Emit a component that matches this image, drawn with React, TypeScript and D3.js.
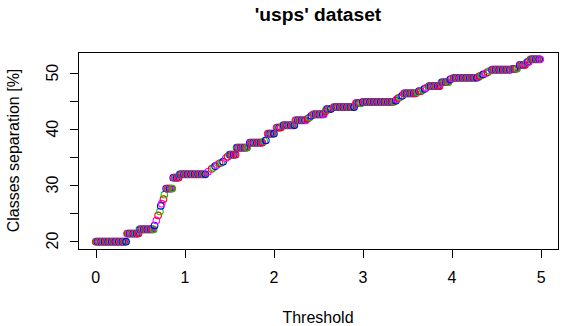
import { useEffect, useRef } from 'react';
import * as d3 from 'd3';

// step runs: threshold from..to (step 0.01) at one separation value
const runFrom = [
  0.00, 0.35, 0.49, 0.66, 0.68, 0.70, 0.72, 0.73, 0.74, 0.76, 0.77, 0.79, 0.87, 0.94,
  1.26, 1.30, 1.32, 1.34, 1.36, 1.39, 1.41, 1.43, 1.46, 1.48, 1.50, 1.58, 1.73, 1.89, 1.91, 1.93,
  2.03, 2.10, 2.24, 2.38, 2.40, 2.42, 2.44, 2.58, 2.59, 2.67, 2.92,
  3.00, 3.37, 3.38, 3.40, 3.42, 3.44, 3.46, 3.61, 3.63, 3.67, 3.69, 3.71, 3.74, 3.88, 3.98, 4.00,
  4.02, 4.30, 4.31, 4.33, 4.35, 4.38, 4.40, 4.42, 4.45, 4.68, 4.76, 4.84, 4.88,
];
const runTo = [
  0.34, 0.48, 0.65, 0.66, 0.68, 0.70, 0.72, 0.73, 0.74, 0.76, 0.77, 0.86, 0.93, 1.23,
  1.26, 1.30, 1.32, 1.34, 1.36, 1.39, 1.41, 1.43, 1.46, 1.48, 1.57, 1.70, 1.87, 1.89, 1.91, 2.00,
  2.08, 2.23, 2.36, 2.38, 2.40, 2.42, 2.56, 2.58, 2.64, 2.90, 2.98,
  3.35, 3.37, 3.38, 3.40, 3.42, 3.44, 3.59, 3.61, 3.65, 3.67, 3.69, 3.71, 3.86, 3.96, 3.98, 4.00,
  4.28, 4.30, 4.31, 4.33, 4.35, 4.38, 4.40, 4.42, 4.66, 4.73, 4.82, 4.86, 4.99,
];
const runValue = [
  19.8, 21.25, 22.0, 22.7, 23.6, 24.5, 25.2, 26.2, 26.6, 27.4, 28.2, 29.3, 31.25, 31.85,
  32.3, 32.8, 33.0, 33.3, 33.5, 33.8, 33.9, 34.1, 34.7, 35.0, 35.35, 36.6, 37.5, 37.8, 37.9, 39.1,
  40.2, 40.6, 41.5, 41.8, 42.0, 42.3, 42.55, 43.1, 43.5, 43.85, 44.55,
  44.8, 45.0, 45.3, 45.5, 45.65, 45.9, 46.3, 46.5, 46.7, 46.9, 47.1, 47.3, 47.6, 48.3, 48.8, 48.95,
  49.1, 49.25, 49.4, 49.55, 49.7, 49.9, 50.1, 50.3, 50.55, 50.7, 51.4, 51.9, 52.4,
];

const xTicks = [0, 1, 2, 3, 4, 5];
const yTicks = [20, 25, 30, 35, 40, 45, 50];
const yTickLabels = [20, 30, 40, 50];
const pointColors = ['#FF0000', '#00CD00', '#0000FF', '#FF00FF'];

type Pt = { t: number; v: number };

export default function App() {
  const svgRef = useRef<SVGSVGElement | null>(null);

  useEffect(() => {
    if (!svgRef.current) return;
    const W = 571, H = 326;
    const box = { left: 78, right: 558, top: 52, bottom: 249 };
    const font = '"Liberation Sans", Arial, sans-serif';

    const pts: Pt[] = [];
    runFrom.forEach((f, i) => {
      const a = Math.round(f * 100), b = Math.round(runTo[i] * 100);
      for (let k = a; k <= b; k++) pts.push({ t: k / 100, v: runValue[i] });
    });

    // R style 4% padding
    const pad = (e: [number, number]) => {
      const d = (e[1] - e[0]) * 0.04;
      return [e[0] - d, e[1] + d];
    };
    const x = d3.scaleLinear()
      .domain(pad(d3.extent(pts, (d) => d.t) as [number, number]))
      .range([box.left, box.right]);
    const y = d3.scaleLinear()
      .domain(pad(d3.extent(pts, (d) => d.v) as [number, number]))
      .range([box.bottom, box.top]);

    const svg = d3.select(svgRef.current);
    svg.selectAll('*').remove();
    svg.attr('width', W).attr('height', H);
    svg.append('rect').attr('width', W).attr('height', H).attr('fill', '#fff');

    // points
    svg.append('g')
      .selectAll('circle')
      .data(pts)
      .join('circle')
      .attr('cx', (d) => x(d.t))
      .attr('cy', (d) => y(d.v))
      .attr('r', 3.3)
      .attr('fill', 'none')
      .attr('stroke', (_d, i) => pointColors[i % pointColors.length])
      .attr('stroke-width', 1.1);

    // plot box
    svg.append('rect')
      .attr('x', box.left + 0.5)
      .attr('y', box.top + 0.5)
      .attr('width', box.right - box.left)
      .attr('height', box.bottom - box.top)
      .attr('fill', 'none')
      .attr('stroke', '#000')
      .attr('shape-rendering', 'crispEdges');

    // x axis
    const gx = svg.append('g');
    gx.selectAll('line')
      .data(xTicks)
      .join('line')
      .attr('x1', (d) => Math.round(x(d)) + 0.5)
      .attr('x2', (d) => Math.round(x(d)) + 0.5)
      .attr('y1', box.bottom)
      .attr('y2', box.bottom + 9)
      .attr('stroke', '#000')
      .attr('shape-rendering', 'crispEdges');
    gx.selectAll('text')
      .data(xTicks)
      .join('text')
      .attr('x', (d) => x(d))
      .attr('y', 283)
      .attr('text-anchor', 'middle')
      .attr('font-family', font)
      .attr('font-size', 16)
      .text((d) => d);

    // y axis
    const gy = svg.append('g');
    gy.selectAll('line')
      .data(yTicks)
      .join('line')
      .attr('x1', box.left - 8)
      .attr('x2', box.left)
      .attr('y1', (d) => Math.round(y(d)) + 0.5)
      .attr('y2', (d) => Math.round(y(d)) + 0.5)
      .attr('stroke', '#000')
      .attr('shape-rendering', 'crispEdges');
    gy.selectAll('text')
      .data(yTickLabels)
      .join('text')
      .attr('transform', (d) => `translate(57.5,${y(d)}) rotate(-90)`)
      .attr('text-anchor', 'middle')
      .attr('font-family', font)
      .attr('font-size', 16)
      .text((d) => d);

    // titles
    const cx = (box.left + box.right) / 2;
    svg.append('text')
      .attr('x', cx)
      .attr('y', 21)
      .attr('text-anchor', 'middle')
      .attr('font-family', font)
      .attr('font-size', 19.2)
      .attr('font-weight', 'bold')
      .text("'usps' dataset");
    svg.append('text')
      .attr('x', cx)
      .attr('y', 322.5)
      .attr('text-anchor', 'middle')
      .attr('font-family', font)
      .attr('font-size', 16)
      .text('Threshold');
    svg.append('text')
      .attr('transform', `translate(18.5,${(box.top + box.bottom) / 2}) rotate(-90)`)
      .attr('text-anchor', 'middle')
      .attr('font-family', font)
      .attr('font-size', 16)
      .text('Classes separation [%]');
  }, []);

  return (
    <svg
      ref={svgRef}
      style={{ position: 'absolute', left: 0, top: 0, display: 'block' }}
    />
  );
}
